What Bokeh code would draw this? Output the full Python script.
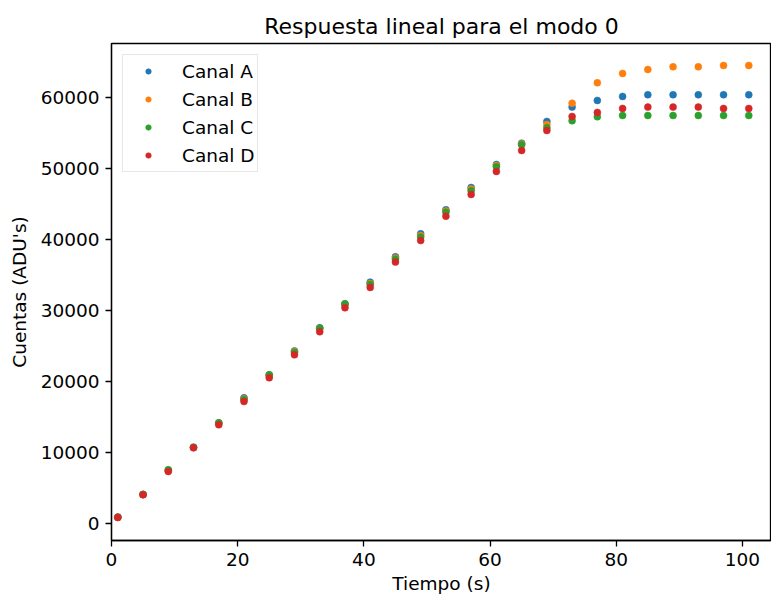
from bokeh.plotting import figure
from bokeh.models import Range1d, FixedTicker, NumeralTickFormatter, Legend, LegendItem
from bokeh.embed import file_html
from bokeh.resources import INLINE

tiempo = [1, 5, 9, 13, 17, 21, 25, 29, 33, 37, 41, 45, 49, 53, 57, 61, 65, 69, 73, 77, 81, 85, 89, 93, 97, 101]

canal_a = [900, 4100, 7500, 10750, 14150, 17700, 20900, 24300, 27550, 30950, 33990, 37560, 40800,
           44180, 47320, 50560, 53560, 56620, 58640, 59580, 60140, 60380, 60380, 60380, 60380, 60380]
canal_b = [880, 4080, 7450, 10700, 14100, 17550, 20850, 24200, 27450, 30850, 33800, 37400, 40550,
           44000, 47100, 50400, 53450, 56200, 59200, 62070, 63380, 63940, 64320, 64320, 64510, 64510]
canal_c = [870, 4070, 7560, 10700, 14180, 17460, 20940, 24080, 27510, 30890, 33660, 37230, 40330,
           43850, 46860, 50230, 53330, 55730, 56720, 57280, 57460, 57460, 57460, 57460, 57460, 57460]
canal_d = [845, 4040, 7320, 10660, 13900, 17180, 20520, 23750, 27000, 30380, 33240, 36810, 39860,
           43280, 46340, 49580, 52530, 55350, 57320, 57890, 58450, 58640, 58640, 58640, 58450, 58450]

series = [("Canal A", canal_a, "#1f77b4"),
          ("Canal B", canal_b, "#ff7f0e"),
          ("Canal C", canal_c, "#2ca02c"),
          ("Canal D", canal_d, "#d62728")]

x_ticks = [0, 20, 40, 60, 80, 100]
y_ticks = [0, 10000, 20000, 30000, 40000, 50000, 60000]

FONT = "DejaVu Sans"
FS = "18.5px"

p = figure(width=771, height=596, output_backend="svg", toolbar_location=None,
           x_range=Range1d(0, 104.6), y_range=Range1d(-2400, 67600),
           min_border_left=111, min_border_right=0, min_border_top=43, min_border_bottom=56,
           title="Respuesta lineal para el modo 0")

p.title.text_font = FONT
p.title.text_font_size = "22px"
p.title.text_font_style = "normal"
p.title.align = "center"
p.title.text_color = "black"

p.xgrid.visible = False
p.ygrid.visible = False
p.outline_line_color = "black"
p.outline_line_width = 1.3
p.background_fill_color = "white"
p.border_fill_color = "white"

for ax in (p.xaxis[0], p.yaxis[0]):
    ax.axis_line_color = "black"
    ax.axis_line_width = 1.3
    ax.major_tick_line_color = "black"
    ax.major_tick_line_width = 1.3
    ax.major_tick_out = 6
    ax.major_tick_in = 0
    ax.minor_tick_line_color = None
    ax.major_label_text_font = FONT
    ax.major_label_text_font_size = FS
    ax.major_label_text_color = "black"
    ax.axis_label_text_font = FONT
    ax.axis_label_text_font_size = FS
    ax.axis_label_text_font_style = "normal"
    ax.axis_label_text_color = "black"

p.xaxis[0].ticker = FixedTicker(ticks=x_ticks)
p.yaxis[0].ticker = FixedTicker(ticks=y_ticks)
p.yaxis[0].formatter = NumeralTickFormatter(format="0")
p.xaxis[0].axis_label = "Tiempo (s)"
p.yaxis[0].axis_label = "Cuentas (ADU's)"
p.xaxis[0].major_label_standoff = 6
p.yaxis[0].major_label_standoff = 6
p.xaxis[0].axis_label_standoff = 4
p.yaxis[0].axis_label_standoff = 8

items = []
for name, vals, col in series:
    r = p.scatter(tiempo, vals, size=7, marker="circle", fill_color=col, line_color=col, line_width=0.5)
    items.append(LegendItem(label=name, renderers=[r]))

legend = Legend(items=items, location="top_left", margin=11,
                padding=2, spacing=0, glyph_height=14, glyph_width=46,
                label_height=28, label_standoff=11,
                label_text_font=FONT, label_text_font_size=FS, label_text_color="black",
                border_line_color="#d0d0d0", border_line_width=1.3,
                background_fill_color="white", background_fill_alpha=0.8)
p.add_layout(legend)

open("out.html", "w").write(file_html(p, INLINE))
